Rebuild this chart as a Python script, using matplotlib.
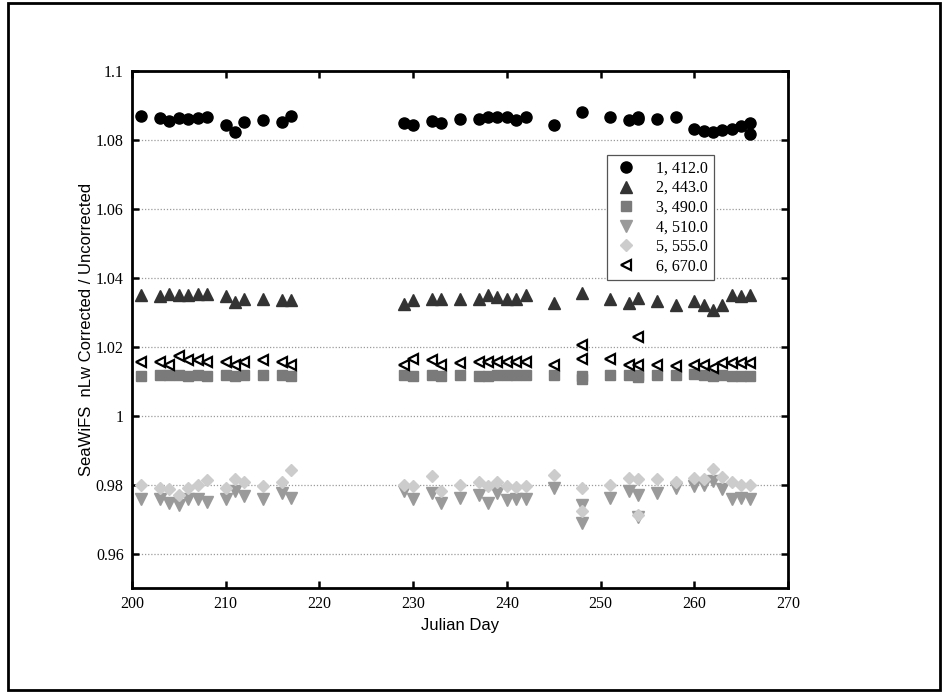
import matplotlib
matplotlib.use("Agg")
import matplotlib.pyplot as plt
from matplotlib.patches import Rectangle

# Julian days of the match-ups
days = [201, 203, 204, 205, 206, 207, 208, 210, 211, 212, 214, 216, 217,
        229, 230, 232, 233, 235, 237, 238, 239, 240, 241, 242, 245,
        248, 251, 253, 254, 256, 258, 260, 261, 262, 263, 264, 265, 266]

# Ratio nLw corrected / uncorrected per band
b412 = [1.0870, 1.0865, 1.0855, 1.0865, 1.0860, 1.0865, 1.0868, 1.0843, 1.0824, 1.0851, 1.0858, 1.0852, 1.0870,
        1.0849, 1.0843, 1.0855, 1.0850, 1.0862, 1.0860, 1.0868, 1.0866, 1.0866, 1.0858, 1.0868, 1.0843,
        1.0880, 1.0866, 1.0858, 1.0868, 1.0862, 1.0868, 1.0833, 1.0826, 1.0822, 1.0828, 1.0832, 1.0840, 1.0818]
b443 = [1.0351, 1.0346, 1.0354, 1.0351, 1.0351, 1.0354, 1.0354, 1.0346, 1.0331, 1.0340, 1.0340, 1.0337, 1.0337,
        1.0325, 1.0337, 1.0340, 1.0340, 1.0338, 1.0340, 1.0351, 1.0343, 1.0338, 1.0340, 1.0349, 1.0328,
        1.0356, 1.0339, 1.0327, 1.0341, 1.0334, 1.0322, 1.0334, 1.0322, 1.0307, 1.0322, 1.0351, 1.0346, 1.0351]
b490 = [1.0115, 1.0118, 1.0118, 1.0118, 1.0116, 1.0118, 1.0115, 1.0117, 1.0115, 1.0117, 1.0117, 1.0118, 1.0115,
        1.0118, 1.0115, 1.0117, 1.0115, 1.0117, 1.0116, 1.0115, 1.0117, 1.0118, 1.0117, 1.0118, 1.0117,
        1.0115, 1.0117, 1.0117, 1.0118, 1.0117, 1.0117, 1.0120, 1.0118, 1.0116, 1.0118, 1.0116, 1.0115, 1.0116]
b510 = [0.9757, 0.9757, 0.9748, 0.9740, 0.9757, 0.9757, 0.9751, 0.9757, 0.9781, 0.9768, 0.9757, 0.9776, 0.9760,
        0.9781, 0.9757, 0.9776, 0.9748, 0.9760, 0.9771, 0.9748, 0.9776, 0.9754, 0.9757, 0.9757, 0.9790,
        0.9742, 0.9761, 0.9781, 0.9771, 0.9776, 0.9790, 0.9795, 0.9800, 0.9810, 0.9786, 0.9757, 0.9760, 0.9757]
b555 = [0.9800, 0.9790, 0.9788, 0.9771, 0.9790, 0.9798, 0.9814, 0.9790, 0.9815, 0.9808, 0.9795, 0.9808, 0.9841,
        0.9800, 0.9795, 0.9826, 0.9781, 0.9800, 0.9808, 0.9795, 0.9808, 0.9795, 0.9792, 0.9795, 0.9829,
        0.9790, 0.9800, 0.9819, 0.9815, 0.9815, 0.9808, 0.9820, 0.9815, 0.9845, 0.9823, 0.9808, 0.9798, 0.9800]
b670 = [1.0157, 1.0157, 1.0148, 1.0174, 1.0161, 1.0161, 1.0157, 1.0157, 1.0148, 1.0157, 1.0161, 1.0155, 1.0148,
        1.0148, 1.0165, 1.0161, 1.0148, 1.0153, 1.0157, 1.0157, 1.0157, 1.0157, 1.0157, 1.0157, 1.0148,
        1.0164, 1.0164, 1.0148, 1.0148, 1.0148, 1.0143, 1.0148, 1.0148, 1.0138, 1.0153, 1.0153, 1.0153, 1.0153]

# Second overpasses (days 248, 254 and 266)
extra_days = [248, 254]
extra_412_days = [254, 266]
extra_412 = [1.0860, 1.0850]
extra_490 = [1.0105, 1.0112]
extra_510 = [0.9689, 0.9705]
extra_555 = [0.9723, 0.9712]
extra_670 = [1.0206, 1.0228]

band_labels = ["1, 412.0", "2, 443.0", "3, 490.0", "4, 510.0", "5, 555.0", "6, 670.0"]
yticks = [0.96, 0.98, 1.0, 1.02, 1.04, 1.06, 1.08, 1.1]
xticks = [200, 210, 220, 230, 240, 250, 260, 270]

serif = "Liberation Serif"
sans = "Liberation Sans"

fig = plt.figure(figsize=(9.48, 6.93), dpi=100)
ax = fig.add_axes([0.1392, 0.1515, 0.6920, 0.7460])

styles = [
    dict(marker="o", color="#000000", mec="#000000", ms=8.0),
    dict(marker="^", color="#333333", mec="#333333", ms=8.0),
    dict(marker="s", color="#7a7a7a", mec="#7a7a7a", ms=6.8),
    dict(marker="v", color="#9a9a9a", mec="#9a9a9a", ms=8.0),
    dict(marker="D", color="#cccccc", mec="#cccccc", ms=6.3),
    dict(marker="<", color="white", mec="#000000", ms=7.8, mew=1.6),
]

series = [
    (days, b412, extra_412_days, extra_412),
    (days, b443, [], []),
    (days, b490, extra_days, extra_490),
    (days, b510, extra_days, extra_510),
    (days, b555, extra_days, extra_555),
    (days, b670, extra_days, extra_670),
]

for (d, v, ed, ev), st, lab in zip(series, styles, band_labels):
    style = dict(st)
    face = style.pop("color")
    ax.plot(d + ed, v + ev, linestyle="none", mfc=face, label=lab, **style)

ax.set_xlim(200, 270)
ax.set_ylim(0.95, 1.1)
ax.set_xticks(xticks)
ax.set_yticks(yticks)
ax.set_yticklabels(["%g" % t for t in yticks])
ax.yaxis.grid(True, linestyle=(0, (1, 1.5)), color="#9a9a9a", linewidth=0.9)
ax.set_axisbelow(True)

for s in ax.spines.values():
    s.set_linewidth(2.0)
ax.tick_params(direction="in", length=5, width=1.8, top=True, right=True,
               labelsize=11.5, pad=6)
for lbl in ax.get_xticklabels() + ax.get_yticklabels():
    lbl.set_fontfamily(serif)

ax.set_xlabel("Julian Day", fontfamily=sans, fontsize=12, labelpad=4)
ax.set_ylabel("SeaWiFS  nLw Corrected / Uncorrected", fontfamily=sans, fontsize=12, labelpad=1)

leg = ax.legend(loc="upper left", bbox_to_anchor=(0.7125, 0.8530), frameon=True,
                fancybox=False, edgecolor="#555555", framealpha=1,
                prop={"family": serif, "size": 11.5}, borderpad=0.35,
                labelspacing=0.22, handletextpad=1.1, handlelength=1.6)
leg.get_frame().set_linewidth(0.9)

# outer frame around the whole figure
fig.patches.append(Rectangle((0.008, 0.004), 0.984, 0.991, transform=fig.transFigure,
                             fill=False, edgecolor="black", linewidth=2.0))

fig.savefig("out.png", dpi=100)
